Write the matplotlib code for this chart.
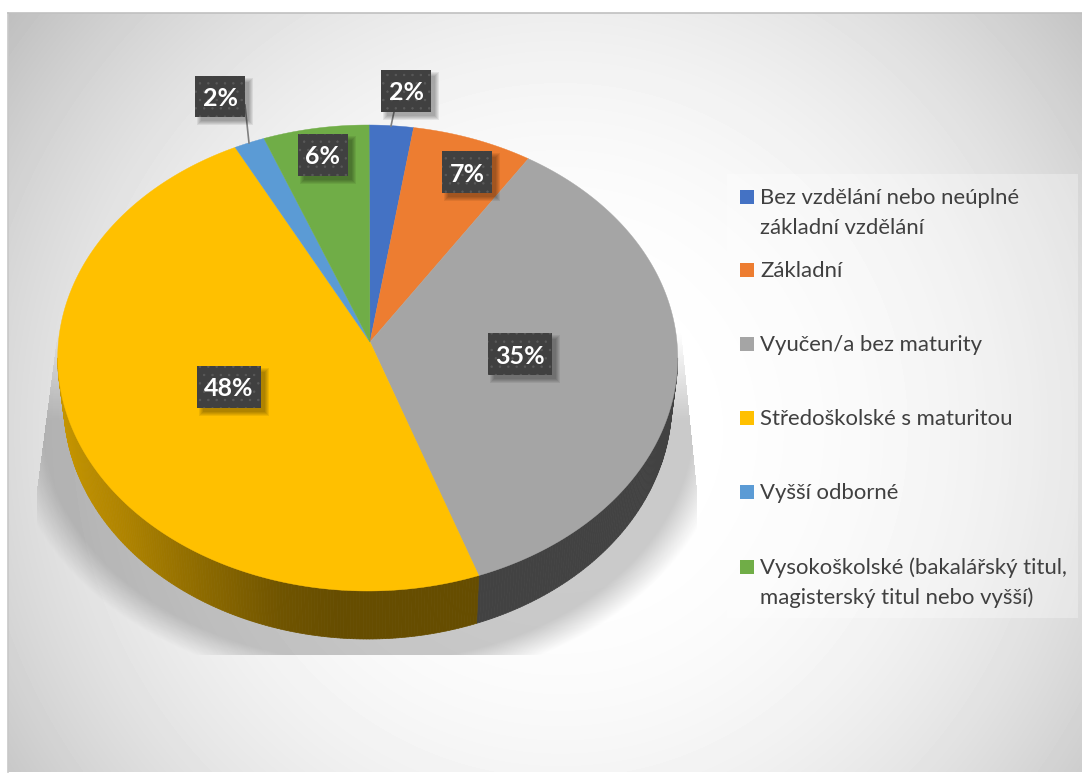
import numpy as np
import matplotlib
matplotlib.use("Agg")
import matplotlib.pyplot as plt
from matplotlib.patches import Rectangle, Polygon
from matplotlib.path import Path
from matplotlib.collections import PolyCollection
from matplotlib.colors import to_rgb

categories = ["Bez vzdělání nebo neúplné\nzákladní vzdělání", "Základní", "Vyučen/a bez maturity",
              "Středoškolské s maturitou", "Vyšší odborné",
              "Vysokoškolské (bakalářský titul,\nmagisterský titul nebo vyšší)"]
values = [2.3, 6.3, 35.5, 48.8, 1.6, 5.5]
pct_labels = ["2%", "7%", "35%", "48%", "2%", "6%"]
colors = ["#4472C4", "#ED7D31", "#A5A5A5", "#FFC000", "#5B9BD5", "#70AD47"]

W, H = 1082, 773
plt.rcParams['font.family'] = ['Lato', 'DejaVu Sans']
plt.rcParams['hatch.linewidth'] = 0.5
fig = plt.figure(figsize=(W/100, H/100), dpi=100, facecolor="white")
ax = fig.add_axes([0, 0, 1, 1])
ax.set_xlim(0, W); ax.set_ylim(H, 0); ax.axis("off")

# chart background: radial gradient
L, T, R, B = 8, 13, W, 772
yy, xx = np.mgrid[T:B, L:R]
d = np.hypot(xx - 560, yy - 430) / 690.0
g = np.clip((d - 0.1) / 0.9, 0, 1) ** 2.2
bg = (255 - 64 * g) / 255.0
ax.imshow(bg, cmap="gray", vmin=0, vmax=1, extent=(L, R, B, T), zorder=0, aspect="auto", interpolation="bilinear")
ax.set_xlim(0, W); ax.set_ylim(H, 0)
ax.plot([L-0.5, L-0.5], [B, T-0.5], color="#C8C8C8", lw=1.2, zorder=1)
ax.plot([L-0.5, R], [T-0.5, T-0.5], color="#C0C0C0", lw=1.2, zorder=1)

# pie geometry
CX, CY, A, Bb = 367.7, 358, 310, 233
AX, AY = 370, 342
LCY, LA, LB = 403, 304, 236
START = np.radians(0.25)

def upper(t):
    return CX + A*np.sin(t), CY - Bb*np.cos(t)
def lower(t):
    return CX + LA*np.sin(t), LCY - LB*np.cos(t)

# soft ground shadow
sy, sx = np.mgrid[300:660, 30:710]
e = np.hypot((sx - CX) / 350.0, (sy - 420) / 260.0)
sa = 0.21 * np.clip((1.03 - e) / 0.10, 0, 1) * np.clip((sy - 330) / 90.0, 0, 1)
poly = Path([(62, 300), (37, 490), (37, 655), (697, 655), (697, 490), (678, 300)])
mask = poly.contains_points(np.c_[sx.ravel() + 0.5, sy.ravel() + 0.5]).reshape(sx.shape)
sa = sa * mask
rgba = np.zeros(sx.shape + (4,)); rgba[..., 3] = sa
ax.imshow(rgba, extent=(30, 710, 660, 300), zorder=2, aspect="auto", interpolation="bilinear")
ax.set_xlim(0, W); ax.set_ylim(H, 0)

# slices
vals = np.array(values, float)
edges = START + np.r_[0, np.cumsum(vals) / vals.sum()] * 2*np.pi

# side wall
shade_x = [60, 130, 200, 280, 340]
shade_f = [0.78, 0.68, 0.56, 0.44, 0.40]
quads, qcols = [], []
for i, c in enumerate(colors):
    a0, a1 = max(edges[i], np.pi/2), min(edges[i+1], 3*np.pi/2)
    if a1 <= a0:
        continue
    ts = np.linspace(a0, a1, max(2, int((a1-a0)/np.radians(0.6))))
    base = np.array(to_rgb(c))
    for t0, t1 in zip(ts[:-1], ts[1:]):
        ux0, uy0 = upper(t0); ux1, uy1 = upper(t1)
        lx0, ly0 = lower(t0); lx1, ly1 = lower(t1)
        quads.append([(ux0, uy0), (ux1, uy1), (lx1, ly1), (lx0, ly0)])
        qcols.append(base * np.interp((lx0+lx1)/2, shade_x, shade_f))
ax.add_collection(PolyCollection(quads, facecolors=qcols, edgecolors=qcols, linewidths=0.5, zorder=3))

# top faces
for i, c in enumerate(colors):
    ts = np.linspace(edges[i], edges[i+1], 200)
    xs, ys = upper(ts)
    ax.add_patch(Polygon(np.c_[np.r_[AX, xs], np.r_[AY, ys]], closed=True, facecolor=c, edgecolor=c, lw=0.3, zorder=4))

# leader lines
ax.plot([245, 249], [105, 143], color="#7F7F7F", lw=1.2, zorder=5)
ax.plot([394, 391], [112, 126], color="#7F7F7F", lw=1.2, zorder=5)

# data labels
boxes = [(381, 70, 50, 42), (442, 151, 50, 42), (488, 333, 64, 42),
         (197, 366, 64, 42), (195, 76, 50, 41), (298, 134, 50, 42)]
for (x, y, w, h), s in zip(boxes, pct_labels):
    for k in range(5):
        ax.add_patch(Rectangle((x+4-k+2, y+4-k+2), w+2*k-2, h+2*k-2, facecolor="black", alpha=0.07, lw=0, zorder=6))
    ax.add_patch(Rectangle((x, y), w, h, facecolor="#404040", edgecolor="#5A5A5A", hatch="..", lw=0, zorder=7))
    ax.text(x+w/2, y+h/2, s, color="white", fontsize=18, fontweight="bold", ha="center", va="center_baseline", zorder=8)

# legend
ax.add_patch(Rectangle((727, 174), 351, 444, facecolor="white", alpha=0.3, lw=0, zorder=2))
ly = [197, 270, 344, 418, 492, 567]
for c, s, y in zip(colors, categories, ly):
    ax.add_patch(Rectangle((740, y-7), 14, 14, facecolor=c, lw=0, zorder=5))
    for j, line in enumerate(s.split("\n")):
        ax.text(760, y - 1 + j*29.5, line, color="#404040", fontsize=15.9, ha="left", va="center_baseline", zorder=5)

fig.savefig("out.png", dpi=100, facecolor="white")
